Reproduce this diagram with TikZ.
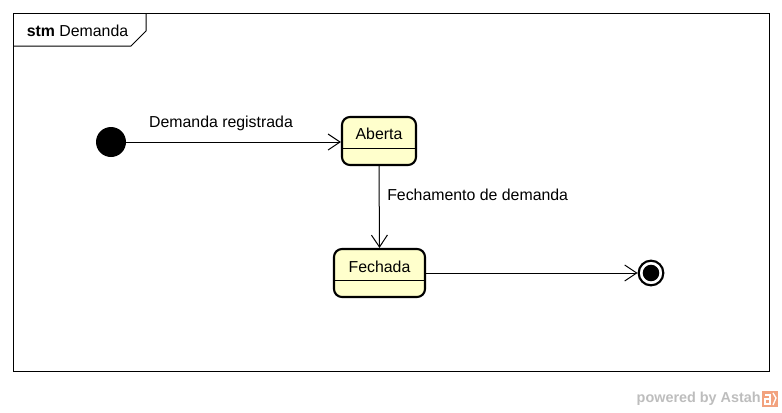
\documentclass[tikz,border=0pt]{standalone}
\usepackage{fontspec}
\setmainfont{Liberation Sans}
\usetikzlibrary{arrows.meta}
\definecolor{statefill}{HTML}{FFFFCC}
\definecolor{wmgray}{HTML}{BDBDBD}
\definecolor{wmorange}{HTML}{F2A27E}
\tikzstyle{state}=[rectangle, rounded corners=6pt, fill=statefill, draw=black, line width=1.6pt, minimum height=36pt, inner sep=0pt, anchor=center]
\tikzstyle{annot}=[align=center, inner sep=0pt, font=\fontsize{11.9}{14}\selectfont]
\tikzstyle{trans}=[-{Straight Barb[length=9pt,width=12pt]}, line width=0.75pt]
\begin{document}
\begin{tikzpicture}[x=0.75pt, y=-0.75pt]
	\useasboundingbox (0,0) rectangle (782,412);

	% frame
	\draw[line width=0.75pt] (13,13) rectangle (769,371);
	\draw[line width=0.75pt] (13,46) -- (131,46) -- (146,31) -- (146,13);
	\node[annot] (title) at (77.5,31) {\textbf{stm} Demanda};

	% states
	\node[circle, fill=black, minimum size=22.5pt, inner sep=0pt](init) at (111,142){};
	\node[state, minimum width=55.5pt](aberta) at (379,141){};
	\node[state, minimum width=68.25pt](fechada) at (379.5,273){};
	\node[circle, draw=black, line width=1.6pt, minimum size=18.5pt, inner sep=0pt](final) at (651,273){};
	\fill (final.center) circle (6.2pt);

	\draw[line width=0.75pt] ([yshift=-5.25pt]aberta.west) -- ([yshift=-5.25pt]aberta.east);
	\draw[line width=0.75pt] ([yshift=-5.25pt]fechada.west) -- ([yshift=-5.25pt]fechada.east);
	\node[annot] (abertaname) at (379,134) {Aberta};
	\node[annot] (fechadaname) at (379.5,267) {Fechada};

	% transitions
	\draw[trans] (init.east) -- (init.east -| aberta.west);
	\draw[trans] (aberta.south) -- (fechada.north);
	\draw[trans] (fechada.east) -- (final.west);
	\node[annot] (lblregistrada) at (221,123) {Demanda registrada};
	\node[annot, anchor=west] (lblfechamento) at (387,195) {Fechamento de demanda};

	% watermark
	\node[anchor=east, inner sep=0pt, text=wmgray, font=\bfseries\fontsize{10.8}{12}\selectfont](wm) at (761,399) {powered by Astah};
	\fill[wmorange] (762,391) rectangle (778,407);
	\draw[white, line width=1pt] (765,395) -- (770,395) -- (770,404) -- (765,404) -- (765,399) -- (770,399);
	\draw[white, line width=1pt] (773,393) -- (776,398) -- (773,405);
\end{tikzpicture}
\end{document}
